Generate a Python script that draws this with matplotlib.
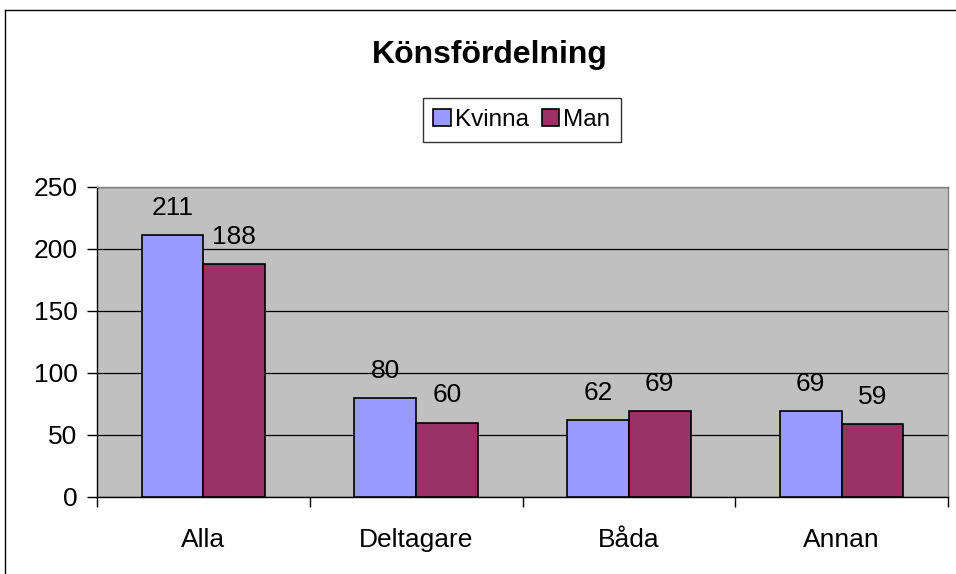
import matplotlib.pyplot as plt
import numpy as np
from matplotlib.lines import Line2D

# data
categories = ['Alla', 'Deltagare', 'Båda', 'Annan']
kvinna = [211, 80, 62, 69]
man = [188, 60, 69, 59]

plt.rcParams['font.family'] = ['Liberation Sans', 'DejaVu Sans']

fig = plt.figure(figsize=(9.56, 5.74), dpi=100)
ax = fig.add_axes([97/956, 1 - 497/574, (948 - 97)/956, (497 - 187)/574])
ax.set_facecolor('#C0C0C0')

x = np.arange(len(categories))
w = 0.29
b1 = ax.bar(x - w/2, kvinna, w, color='#9999FF', edgecolor='black', linewidth=1.2, label='Kvinna', zorder=3)
b2 = ax.bar(x + w/2, man, w, color='#993366', edgecolor='black', linewidth=1.2, label='Man', zorder=3)

for bars, vals in ((b1, kvinna), (b2, man)):
  for r, v in zip(bars, vals):
    ax.annotate(str(v), (r.get_x() + r.get_width()/2, v), xytext=(0, 11),
                textcoords='offset points', ha='center', va='bottom', fontsize=19)

ax.set_xlim(-0.5, len(categories) - 0.5)
ax.set_ylim(0, 250)
ax.set_yticks(np.arange(0, 251, 50))
ax.tick_params(axis='y', labelsize=19, direction='out', length=7, width=1, pad=7)
ax.yaxis.grid(True, color='black', linewidth=0.9, zorder=0)
ax.set_axisbelow(True)

# category labels at centers, ticks at boundaries
ax.set_xticks(x)
ax.set_xticklabels(categories, fontsize=19)
ax.set_xticks(np.arange(-0.5, len(categories)), minor=True)
ax.tick_params(axis='x', which='major', length=0, pad=22)
ax.tick_params(axis='x', which='minor', direction='out', length=7, width=1)

ax.spines['left'].set_color('black')
ax.spines['bottom'].set_color('black')
ax.spines['top'].set_color('#808080')
ax.spines['right'].set_color('#808080')
for s in ax.spines.values():
  s.set_linewidth(1)

fig.text(490/956, 1 - 55/574, 'Könsfördelning', ha='center', va='center', fontsize=23, fontweight='bold')

leg = fig.legend(handles=[b1, b2], loc='center', bbox_to_anchor=(522/956, 1 - 120/574),
                 ncol=2, fontsize=17.5, frameon=True, fancybox=False, edgecolor='black',
                 handlelength=0.7, handleheight=0.7, handletextpad=0.2, columnspacing=0.5,
                 borderpad=0.45, borderaxespad=0)
leg.get_frame().set_linewidth(1)

# outer chart border (left and top visible)
fig.add_artist(Line2D([5/956, 5/956], [0, 1 - 10/574], color='black', linewidth=1, transform=fig.transFigure))
fig.add_artist(Line2D([5/956, 1], [1 - 10/574, 1 - 10/574], color='black', linewidth=1, transform=fig.transFigure))

plt.savefig('out.png', dpi=100)
